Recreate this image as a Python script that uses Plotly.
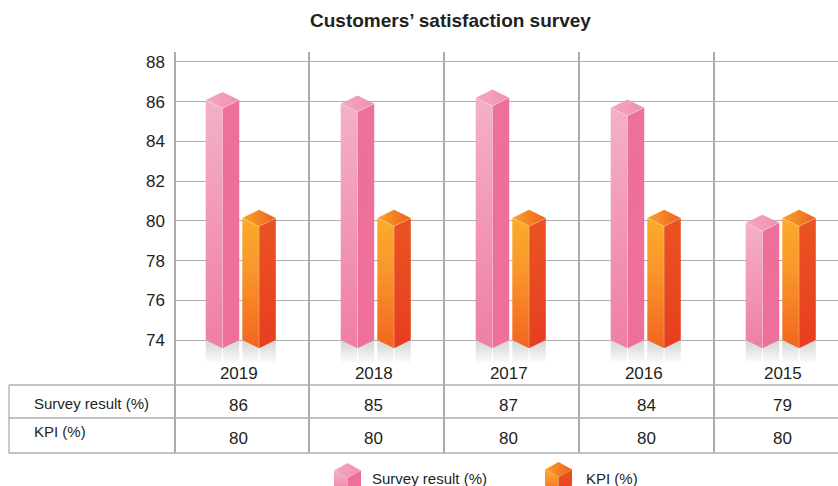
import plotly.graph_objects as go

years = ["2019", "2018", "2017", "2016", "2015"]
survey_drawn = [86.08, 85.9, 86.2, 85.7, 79.9]
kpi_drawn = [80.14, 80.14, 80.14, 80.14, 80.14]
survey_table = ["86", "85", "87", "84", "79"]
kpi_table = ["80", "80", "80", "80", "80"]
year_pos = [-0.02, 0.98, 1.98, 2.98, 4.01]
table_pos = [-0.02, 0.98, 1.98, 3.0, 4.01]
y_ticks = [74, 76, 78, 80, 82, 84, 86, 88]

W, H = 838, 486
FONT = "Liberation Sans"
TXT = "#231f20"
PX_X = 135.0
PX_Y = 19.86
HALF = 16.75 / PX_X
DEPTH = 8.2 / PX_Y
BASE = 74
REFLECT = 72.8

PINK = dict(left=[[0, "#ef7ea5"], [1, "#f4b0c9"]], right=[[0, "#ee6f9b"], [1, "#ec7099"]],
            top=[[0, "#f4a5c1"], [1, "#f092b4"]])
ORANGE = dict(left=[[0, "#f2651f"], [0.6, "#f9962a"], [1, "#fbab2b"]], right=[[0, "#e73e20"], [1, "#ea5420"]],
              top=[[0, "#f9a526"], [1, "#ec5f21"]])


def poly(xs, ys, grad, gtype="vertical", name=None, xaxis="x", yaxis="y"):
    return go.Scatter(x=xs + xs[:1], y=ys + ys[:1], mode="lines", line=dict(width=0),
                      fill="toself", fillgradient=dict(type=gtype, colorscale=grad),
                      hoverinfo="skip", showlegend=False, name=name, xaxis=xaxis, yaxis=yaxis)


def bar(cx, val, pal, name):
    l, r = cx - HALF, cx + HALF
    out = []
    shade = [[0, "rgba(255,255,255,1)"], [1, "rgba(205,205,205,0.85)"]]
    out.append(poly([l, cx - 0.004, cx - 0.004, l], [BASE, BASE, REFLECT, REFLECT], shade))
    out.append(poly([cx + 0.004, r, r, cx + 0.004], [BASE, BASE, REFLECT, REFLECT], shade))
    out.append(poly([l, cx, cx, l], [BASE, BASE - DEPTH, val - DEPTH, val], pal["left"], name=name))
    out.append(poly([cx, r, r, cx], [BASE - DEPTH, BASE, val, val - DEPTH], pal["right"], name=name))
    out.append(poly([l, cx, r, cx], [val, val + DEPTH, val, val - DEPTH], pal["top"], "horizontal", name=name))
    out.append(go.Scatter(x=[l, cx, r, None, cx, cx], y=[val, val - DEPTH, val, None, val - DEPTH, BASE - DEPTH],
                          mode="lines", line=dict(color="rgba(255,255,255,0.25)", width=1),
                          hoverinfo="skip", showlegend=False))
    return out


fig = go.Figure()
for i in range(len(years)):
    for t in bar(i - 0.141, survey_drawn[i], PINK, "Survey result (%)"):
        fig.add_trace(t)
    for t in bar(i + 0.130, kpi_drawn[i], ORANGE, "KPI (%)"):
        fig.add_trace(t)


def cube(cx, top, pal):
    hw, d, h = 13.5, 7.5, 16
    res = []
    res.append(poly([cx - hw, cx, cx, cx - hw], [top + d, top + 2 * d, top + 2 * d + h, top + d + h],
                    pal["left"], xaxis="x2", yaxis="y2"))
    res.append(poly([cx, cx + hw, cx + hw, cx], [top + 2 * d, top + d, top + d + h, top + 2 * d + h],
                    pal["right"], xaxis="x2", yaxis="y2"))
    res.append(poly([cx - hw, cx, cx + hw, cx], [top + d, top, top + d, top + 2 * d],
                    pal["top"], "horizontal", xaxis="x2", yaxis="y2"))
    return res


for t in cube(347.5, 463, PINK) + cube(558.5, 462, ORANGE):
    fig.add_trace(t)


def py(y):
    return 1 - y / H


shapes = []
GRID_V = "#8f8f92"
GRID_H = "#aeaeb0"
for k in range(5):
    xv = k - 0.5 + (0.007 if k == 0 else 0)
    shapes.append(dict(type="line", xref="x", yref="paper", x0=xv, x1=xv, y0=py(453), y1=py(52),
                       line=dict(color=GRID_V, width=1.5), layer="below"))
for yv in [385, 418, 453]:
    shapes.append(dict(type="line", xref="paper", yref="paper", x0=9 / W, x1=1, y0=py(yv), y1=py(yv),
                       line=dict(color=GRID_H, width=1.3), layer="below"))
shapes.append(dict(type="line", xref="paper", yref="paper", x0=9 / W, x1=9 / W, y0=py(453), y1=py(385),
                   line=dict(color=GRID_H, width=1.3), layer="below"))

anns = []


def txt(x, y, s, size=17, xref="paper", anchor="center", **kw):
    anns.append(dict(x=x, y=py(y), xref=xref, yref="paper", text=s, showarrow=False, xanchor=anchor,
                     yanchor="middle", font=dict(family=FONT, size=size, color=TXT), **kw))


for i in range(5):
    txt(table_pos[i], 405, survey_table[i], xref="x")
    txt(table_pos[i], 438, kpi_table[i], xref="x")
txt(32 / W, 403, "Survey result (%)", 15, anchor="left")
txt(32 / W, 431, "KPI (%)", 15, anchor="left")
txt(370 / W, 478, "Survey result (%)", 15, anchor="left")
txt(584 / W, 478, "KPI (%)", 15, anchor="left")
txt(450 / W, 20, "<b>Customers’ satisfaction survey</b>", 19)

bottom = 385
fig.update_layout(
    width=W, height=H, margin=dict(l=0, r=0, t=0, b=0), autosize=False,
    paper_bgcolor="white", plot_bgcolor="rgba(0,0,0,0)", showlegend=False,
    shapes=shapes, annotations=anns,
    font=dict(family=FONT, color=TXT),
    xaxis=dict(domain=[174 / W, 1], range=[-0.5, -0.5 + (W - 174) / PX_X], tickmode="array",
               tickvals=year_pos, ticktext=years, ticks="", showgrid=False, zeroline=False,
               showline=False, ticklabelposition="inside", tickfont=dict(size=17, family=FONT, color=TXT),
               anchor="y"),
    yaxis=dict(domain=[py(bottom), py(52)], range=[BASE - (bottom - 340) / PX_Y, BASE + (340 - 52) / PX_Y],
               tickmode="array", tickvals=y_ticks, ticks="", showgrid=True, gridcolor=GRID_H, gridwidth=1.4,
               zeroline=False, showline=False, tickfont=dict(size=17, family=FONT, color=TXT), ticklabelstandoff=8,
               anchor="x"),
    xaxis2=dict(domain=[0, 1], range=[0, W], visible=False, anchor="y2", fixedrange=True),
    yaxis2=dict(domain=[0, 30 / H], range=[H, H - 30], visible=False, anchor="x2", fixedrange=True),
)
fig.write_html("out.html", post_script="document.body.style.margin='0';document.body.style.overflow='hidden';",
               config=dict(displayModeBar=False))
